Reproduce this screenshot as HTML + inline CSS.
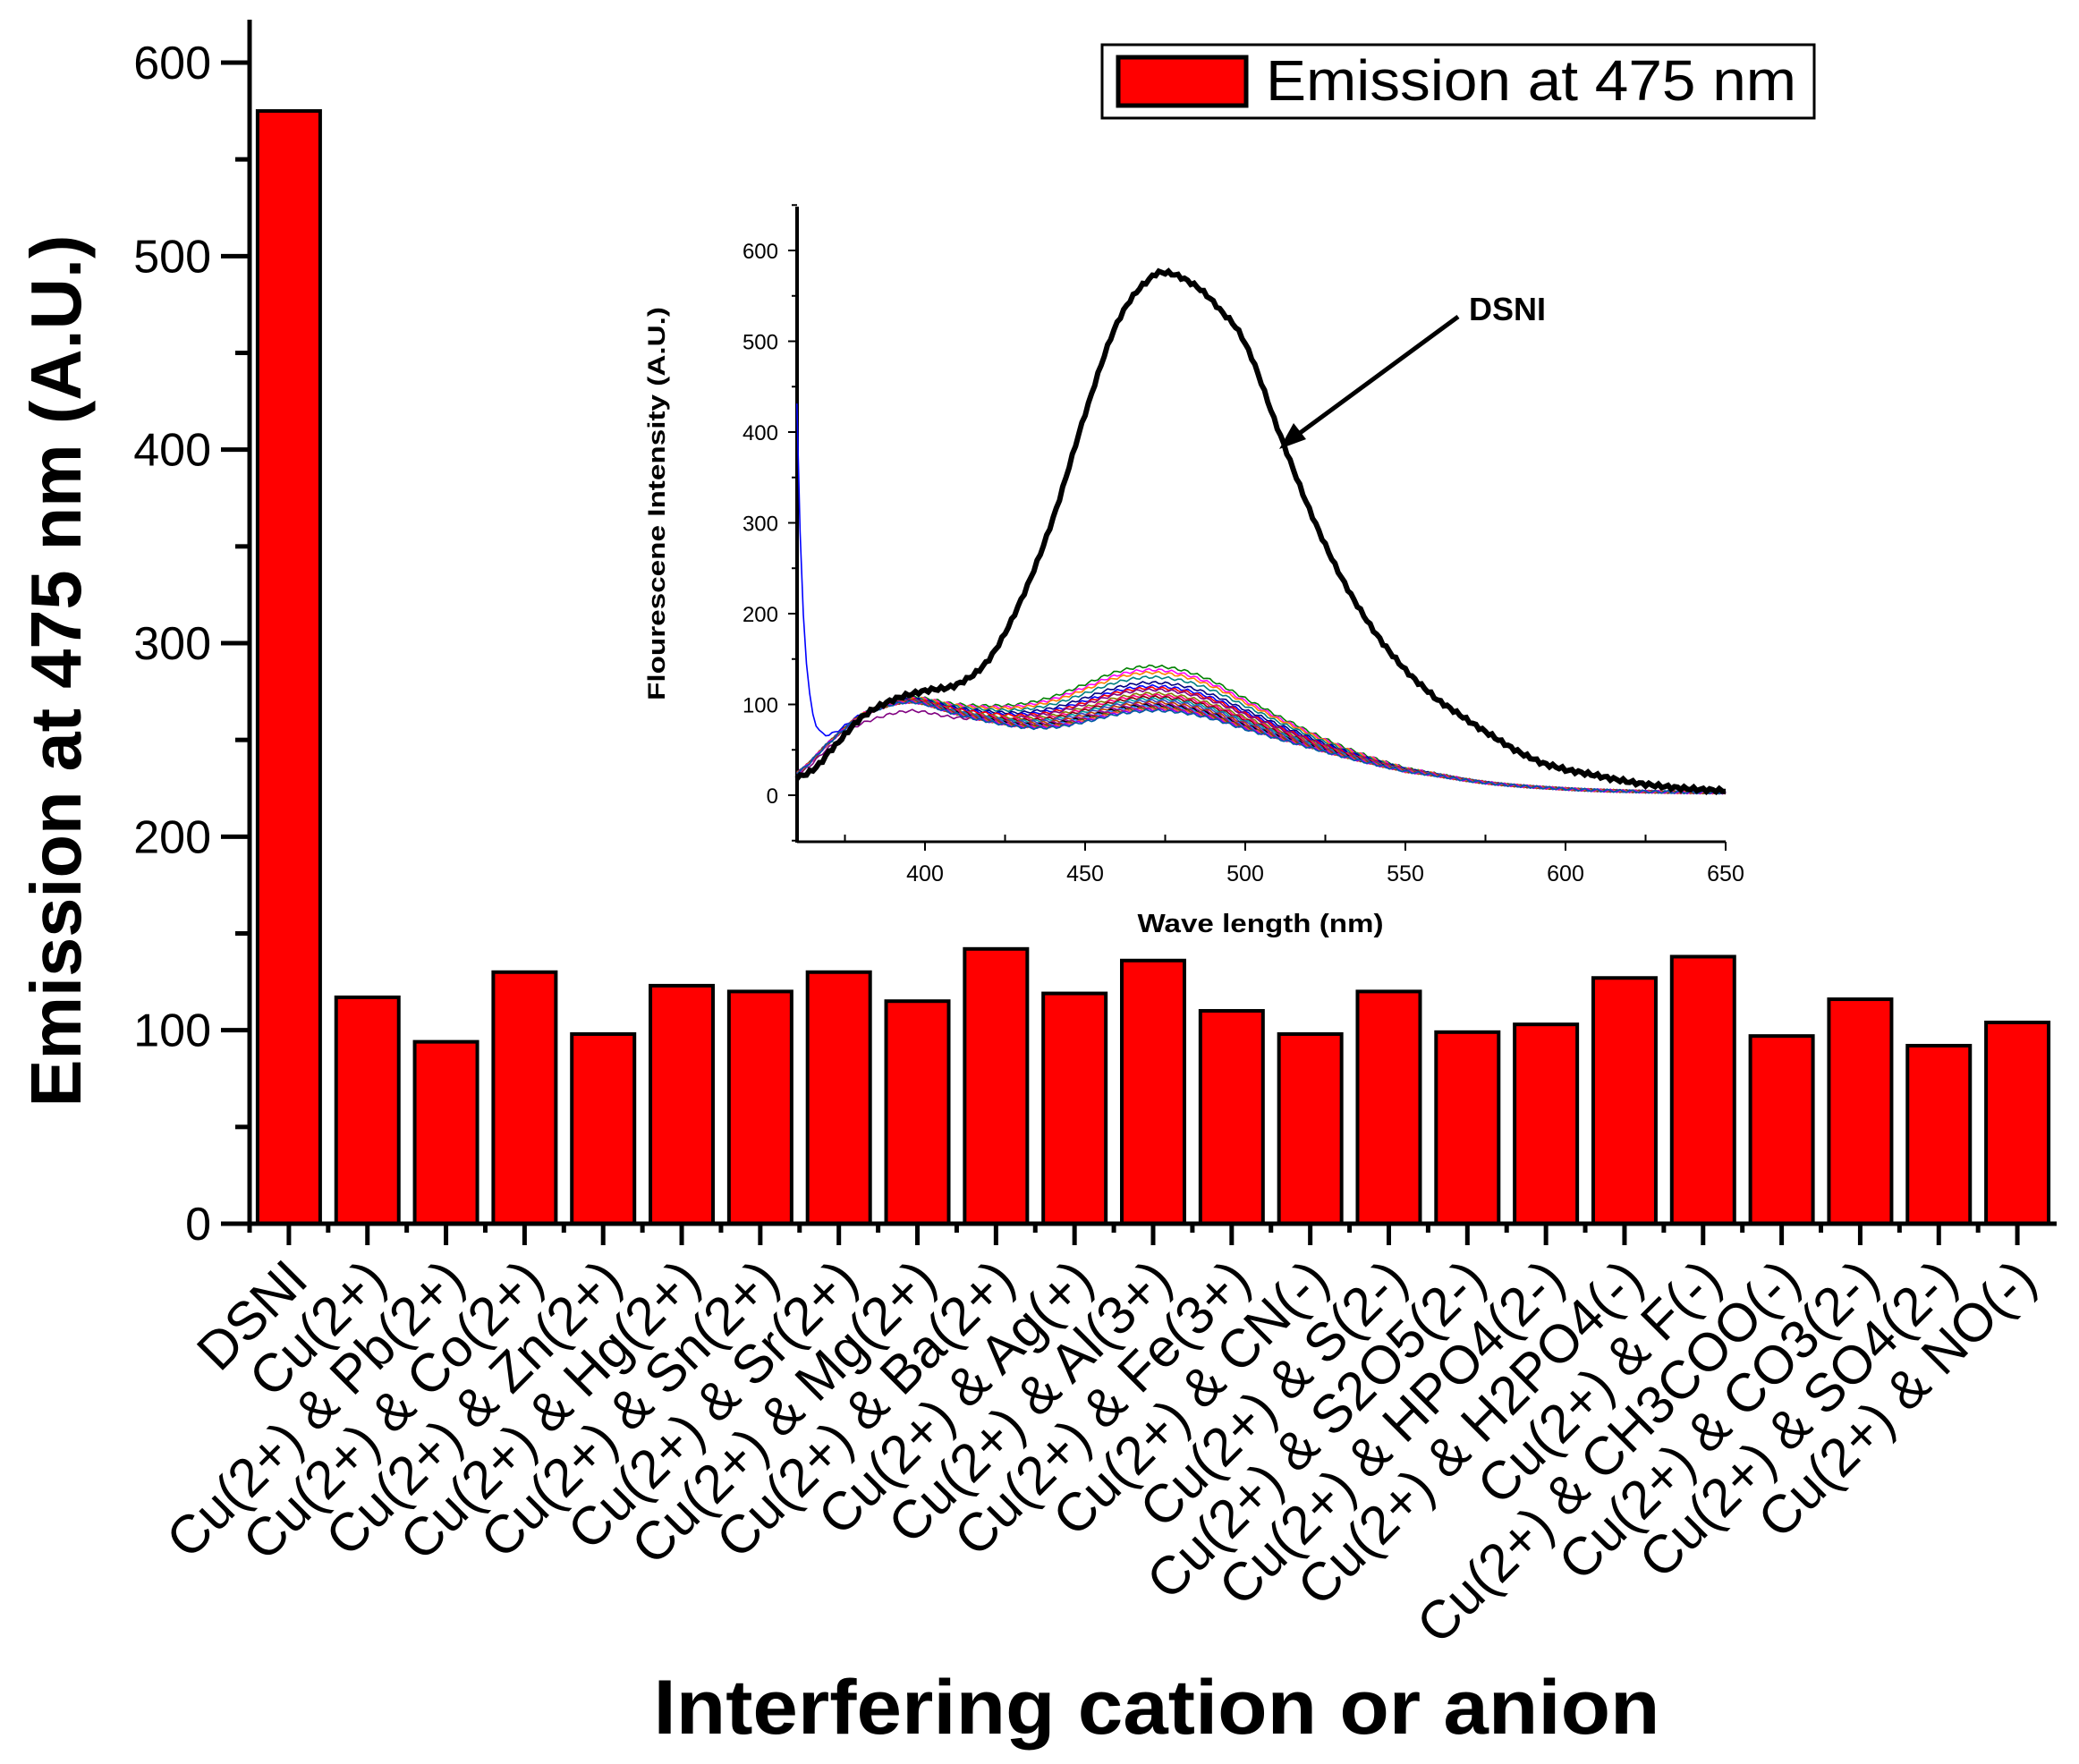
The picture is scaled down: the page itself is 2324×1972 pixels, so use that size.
<!DOCTYPE html>
<html><head><meta charset="utf-8"><style>
html,body{margin:0;padding:0;background:#fff}
svg{display:block}
text{font-family:"Liberation Sans",sans-serif}
</style></head><body>
<svg id="s" width="2324" height="1972" viewBox="0 0 2324 1972" xmlns="http://www.w3.org/2000/svg">
<rect width="2324" height="1972" fill="#fff"/>
<g id="main"></g>
<g id="inset"></g>
<rect x="1232" y="50" width="796" height="82" fill="#fff" stroke="#000" stroke-width="3"/>
<rect x="1250" y="64" width="143" height="54" fill="#ff0000" stroke="#000" stroke-width="5"/>
<text x="1415" y="112" font-size="64" textLength="593" lengthAdjust="spacingAndGlyphs">Emission at 475 nm</text>
<text transform="translate(90,750) rotate(-90)" text-anchor="middle" font-size="80" font-weight="bold" textLength="975" lengthAdjust="spacingAndGlyphs">Emission at 475 nm (A.U.)</text>
<text x="1293" y="1938" text-anchor="middle" font-size="86" font-weight="bold" textLength="1125" lengthAdjust="spacingAndGlyphs">Interfering cation or anion</text>
<text transform="translate(743,563) rotate(-90)" text-anchor="middle" font-size="27" font-weight="bold" textLength="440" lengthAdjust="spacingAndGlyphs">Flourescene Intensity (A.U.)</text>
<text x="1409" y="1042" text-anchor="middle" font-size="29" font-weight="bold" textLength="275" lengthAdjust="spacingAndGlyphs">Wave length (nm)</text>
<text x="1642" y="358" font-size="36" font-weight="bold">DSNI</text>
<line x1="1630" y1="354" x2="1445" y2="490" stroke="#000" stroke-width="5"/>
<polygon points="1430,502 1446,473 1460,491" fill="#000"/>
</svg>
<script>
const NS="http://www.w3.org/2000/svg";
function el(p,t,a,txt){const e=document.createElementNS(NS,t);for(const k in a)e.setAttribute(k,a[k]);if(txt!==undefined)e.textContent=txt;p.appendChild(e);return e;}
const M=document.getElementById('main');
const ax=279,y0=1368,ppu=(1368-70)/600,xEnd=2299;
const vals=[575,117,94,130,98,123,120,130,115,142,119,136,110,98,120,99,103,127,138,97,116,92,104];
const labels=["DSNI","Cu(2+)","Cu(2+)  &  Pb(2+)","Cu(2+)  &  Co(2+)","Cu(2+) &  Zn(2+)","Cu(2+)  &  Hg(2+)","Cu(2+)  &  Sn(2+)","Cu(2+)  &  Sr(2+)","Cu(2+)  &  Mg(2+)","Cu(2+)  &  Ba(2+)","Cu(2+)  &  Ag(+)","Cu(2+)  &  Al(3+)","Cu(2+)  &  Fe(3+)","Cu(2+) & CN(-)","Cu(2+)  &  S(2-)","Cu(2+) &  S2O5(2-)","Cu(2+) &  HPO4(2-)","Cu(2+) & H2PO4(-)","Cu(2+)  &  F(-)","Cu(2+) & CH3COO(-)","Cu(2+) & CO3(2-)","Cu(2+) & SO4(2-)","Cu(2+) & NO(-)"];
const slot=(xEnd-ax)/23;
vals.forEach((v,i)=>{const cx=ax+slot*(i+0.5);const h=v*ppu;
 el(M,'rect',{x:cx-35,y:y0-h,width:70,height:h,fill:'#ff0000',stroke:'#000','stroke-width':4});
 el(M,'line',{x1:cx,y1:y0,x2:cx,y2:y0+24,stroke:'#000','stroke-width':5});
 el(M,'line',{x1:ax+slot*i,y1:y0,x2:ax+slot*i,y2:y0+10,stroke:'#000','stroke-width':5});
 el(M,'text',{transform:`translate(${cx+24},${y0+66}) rotate(-45)`,'text-anchor':'end','font-size':60,'xml:space':'preserve'},labels[i]);
});
el(M,'line',{x1:ax,y1:22,x2:ax,y2:y0+3,stroke:'#000','stroke-width':5});
el(M,'line',{x1:ax-32,y1:y0,x2:xEnd,y2:y0,stroke:'#000','stroke-width':5});
for(let v=0;v<=600;v+=50){const y=y0-v*ppu;const maj=v%100==0;
 el(M,'line',{x1:ax-(maj?32:16),y1:y,x2:ax,y2:y,stroke:'#000','stroke-width':5});
 if(maj)el(M,'text',{x:236,y:y+18,'text-anchor':'end','font-size':52},String(v));}
const I=document.getElementById('inset');
const ix=891,iy0=889,ipu=(889-280)/600,ix400=1034,ipx=(1929-1034)/250;
const X=l=>ix400+(l-400)*ipx, Y=v=>iy0-v*ipu;
el(I,'line',{x1:ix,y1:231,x2:ix,y2:942,stroke:'#000','stroke-width':4});
el(I,'line',{x1:ix,y1:941,x2:1929,y2:941,stroke:'#000','stroke-width':3});
for(let v=-50;v<=650;v+=50){const y=Y(v);const maj=v%100==0;
 el(I,'line',{x1:ix-(maj?10:6),y1:y,x2:ix,y2:y,stroke:'#000','stroke-width':2});
 if(maj&&v>=0)el(I,'text',{x:870,y:y+9,'text-anchor':'end','font-size':24},String(v));}
for(let l=375;l<=650;l+=25){const x=X(l);const maj=l%50==0;
 el(I,'line',{x1:x,y1:941,x2:x,y2:941+(maj?10:-8),stroke:'#000','stroke-width':2});
 if(maj)el(I,'text',{x:x,y:985,'text-anchor':'middle','font-size':25},String(l));}
function interp(pts,l){for(let i=0;i<pts.length-1;i++){const[a,va]=pts[i],[b,vb]=pts[i+1];if(l>=a&&l<=b){const p0=pts[Math.max(0,i-1)][1],p3=pts[Math.min(pts.length-1,i+2)][1];const t=(l-a)/(b-a);
 const m1=(vb-p0)/2,m2=(p3-va)/2;const t2=t*t,t3=t2*t;return (2*t3-3*t2+1)*va+(t3-2*t2+t)*m1+(-2*t3+3*t2)*vb+(t3-t2)*m2;}}return pts[pts.length-1][1];}
const D=[[360,20],[365,28],[370,48],[380,85],[390,105],[400,115],[410,122],[420,150],[430,215],[440,305],[450,420],[460,520],[470,568],[476,575],[485,560],[492,535],[500,497],[510,405],[520,315],[530,240],[540,182],[550,138],[560,105],[575,70],[590,40],[600,28],[625,12],[650,5]];
const T=[[360,25],[370,58],[380,88],[395,105],[410,95],[420,90],[430,88],[440,92],[450,102],[460,113],[470,118],[480,115],[490,105],[500,90],[510,75],[525,55],[540,38],[550,28],[575,14],[600,7],[625,4],[650,3]];
const cols=['#008000','#ff00ff','#ff8000','#008080','#000080','#0000ff','#ff0000','#800080','#808000','#ff0080','#800000','#00a0a0','#4040c0','#c04000','#a000a0','#000000','#2080ff','#c00060','#606000','#ff4040','#8000ff','#0060a0'];
const peaks=[142,138,135,130,124,120,118,116,112,110,108,106,104,102,100,99,98,97,96,95,94,93];
peaks.forEach((p,k)=>{let d='';for(let l=360;l<=650;l+=1){let v=interp(T,l)+(p/118-1)*118*Math.exp(-Math.pow((l-470)/35,2)/2);
 v+=Math.sin(l*1.7+k)*1.5; if(k==5)v+=380*Math.exp(-(l-360)/2.2)+25*Math.exp(-(l-360)/6);
 if(k==7&&l<430)v-=12*Math.exp(-Math.pow((l-395)/20,2)/2);
 d+=(l==360?'M':'L')+X(l).toFixed(1)+','+Y(v).toFixed(1);}
 el(I,'path',{d:d,fill:'none',stroke:cols[k],'stroke-width':1.6});});
let d='';for(let l=360;l<=650;l+=1){const v=interp(D,l)+Math.sin(l*2.3)*2;d+=(l==360?'M':'L')+X(l).toFixed(1)+','+Y(v).toFixed(1);}
el(I,'path',{d:d,fill:'none',stroke:'#000','stroke-width':6});
</script>
</body></html>
